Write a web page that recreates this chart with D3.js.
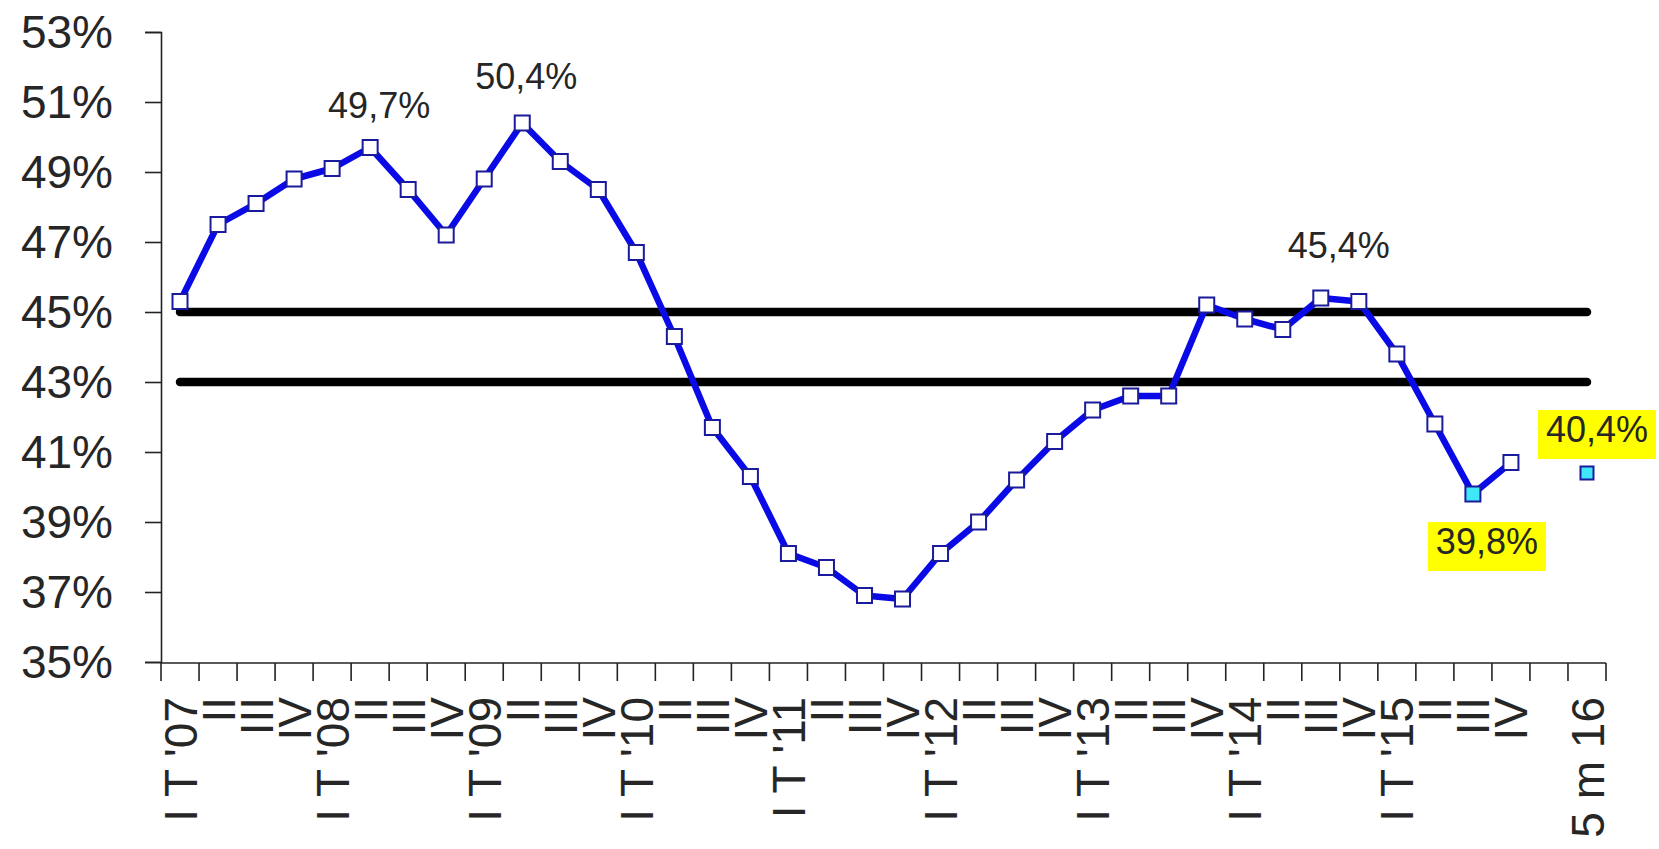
<!DOCTYPE html>
<html>
<head>
<meta charset="utf-8">
<script src="https://cdn.jsdelivr.net/npm/d3@7"></script>
<style>
  html, body { margin: 0; padding: 0; background: #ffffff; }
  svg text { font-family: "Liberation Sans", Arial, sans-serif; }
</style>
</head>
<body>
<svg id="chart" width="1659" height="849"></svg>
<script>
// ---------- DATA ----------
const years = ["07", "08", "09", "10", "11", "12", "13", "14", "15"];
const quarterNames = ["I T '", "II", "III", "IV"];
const categories = [];
years.forEach(yr => quarterNames.forEach((q, k) => categories.push(k === 0 ? q + yr : q)));
categories.push("");        // empty slot
categories.push("5 m 16");

const values = [
  45.3, 47.5, 48.1, 48.8,   // 2007
  49.1, 49.7, 48.5, 47.2,   // 2008
  48.8, 50.4, 49.3, 48.5,   // 2009
  46.7, 44.3, 41.7, 40.3,   // 2010
  38.1, 37.7, 36.9, 36.8,   // 2011
  38.1, 39.0, 40.2, 41.3,   // 2012
  42.2, 42.6, 42.6, 45.2,   // 2013
  44.8, 44.5, 45.4, 45.3,   // 2014
  43.8, 41.8, 39.8, 40.7,   // 2015
  null,                     // empty
  40.4                      // 5 m 16
];

const thresholdValues = [45, 43];
const yTicks = [35, 37, 39, 41, 43, 45, 47, 49, 51, 53];
const highlighted = [34, 37];           // cyan-filled points
const standalone = [37];                // point not joined by the line
const labelled = [5, 9, 30, 34, 37];    // points with value labels
const boxedLabels = [34, 37];           // labels with yellow background

// ---------- LAYOUT ----------
const mLeft = 161, mRight = 1606, mTop = 32, mBottom = 662;
const labelOffsets = {5: [9, -30], 9: [4, -34], 30: [18, -40], 34: [14, 60], 37: [10, -31]};

const svg = d3.select("#chart");

const x = d3.scaleBand().domain(d3.range(categories.length)).range([mLeft, mRight]).paddingInner(0).paddingOuter(0);
const cx = i => x(i) + x.bandwidth() / 2;
const y = d3.scaleLinear().domain([35, 53]).range([mBottom, mTop]);

// threshold lines
thresholdValues.forEach(v => {
  svg.append("path")
    .attr("d", d3.line().x(i => cx(i)).y(() => y(v))(d3.range(categories.length)))
    .attr("fill", "none")
    .attr("stroke", "#000")
    .attr("stroke-width", 8.5)
    .attr("stroke-linecap", "round");
});

// Y axis
const yAxis = svg.append("g").attr("transform", `translate(${mLeft},0)`)
  .call(d3.axisLeft(y).tickValues(yTicks).tickSize(16).tickPadding(32).tickFormat(d => d + "%"));
yAxis.select(".domain").attr("stroke", "#222").attr("stroke-width", 1.6);
yAxis.selectAll(".tick line").attr("stroke", "#222").attr("stroke-width", 1.6);
yAxis.selectAll(".tick text").attr("font-size", 46).attr("fill", "#262626")
  .attr("font-family", "'Liberation Sans', Arial, sans-serif").attr("dy", "0.34em");

// X axis line + ticks at band boundaries
const xg = svg.append("g");
xg.append("line").attr("x1", mLeft).attr("x2", mRight).attr("y1", mBottom + 1).attr("y2", mBottom + 1)
  .attr("stroke", "#222").attr("stroke-width", 1.6);
const boundaries = d3.range(categories.length + 1).map(i => i < categories.length ? x(i) : x(i - 1) + x.bandwidth());
xg.selectAll("line.tk").data(boundaries).join("line").attr("class", "tk")
  .attr("x1", d => d).attr("x2", d => d).attr("y1", mBottom + 1).attr("y2", mBottom + 19)
  .attr("stroke", "#222").attr("stroke-width", 1.6);
xg.selectAll("text").data(categories).join("text")
  .attr("transform", (d, i) => `translate(${cx(i)},${mBottom + 35}) rotate(-90)`)
  .attr("text-anchor", "end")
  .attr("dy", "0.36em")
  .attr("font-size", 46)
  .attr("fill", "#262626")
  .text(d => d);

// main line
const lineData = values.map((v, i) => ({i, v: standalone.includes(i) ? null : v}));
svg.append("path")
  .attr("d", d3.line().defined(d => d.v !== null).x(d => cx(d.i)).y(d => y(d.v))(lineData))
  .attr("fill", "none")
  .attr("stroke", "#0a0ae6")
  .attr("stroke-width", 6.5)
  .attr("stroke-linejoin", "round");

// markers
const pts = values.map((v, i) => ({i, v})).filter(d => d.v !== null);
svg.selectAll("rect.mk").data(pts).join("rect").attr("class", "mk")
  .each(function(d) {
    const s = standalone.includes(d.i) ? 13 : 15;
    d3.select(this).attr("x", cx(d.i) - s / 2).attr("y", y(d.v) - s / 2).attr("width", s).attr("height", s);
  })
  .attr("fill", d => highlighted.includes(d.i) ? "#3ee8f8" : "#ffffff")
  .attr("stroke", "#1a1a9c")
  .attr("stroke-width", 2);

// value labels
const fmt = v => d3.format(".1f")(v).replace(".", ",") + "%";
labelled.forEach(i => {
  const [dx, dy] = labelOffsets[i];
  const g = svg.append("g");
  const t = g.append("text")
    .attr("x", cx(i) + dx).attr("y", y(values[i]) + dy)
    .attr("text-anchor", "middle")
    .attr("font-size", 36)
    .attr("fill", "#262626")
    .text(fmt(values[i]));
  if (boxedLabels.includes(i)) {
    const b = t.node().getBBox();
    g.insert("rect", "text")
      .attr("x", b.x - 8).attr("y", b.y + 1).attr("width", b.width + 16).attr("height", b.height + 8)
      .attr("fill", "#ffff00");
  }
});
</script>
</body>
</html>
